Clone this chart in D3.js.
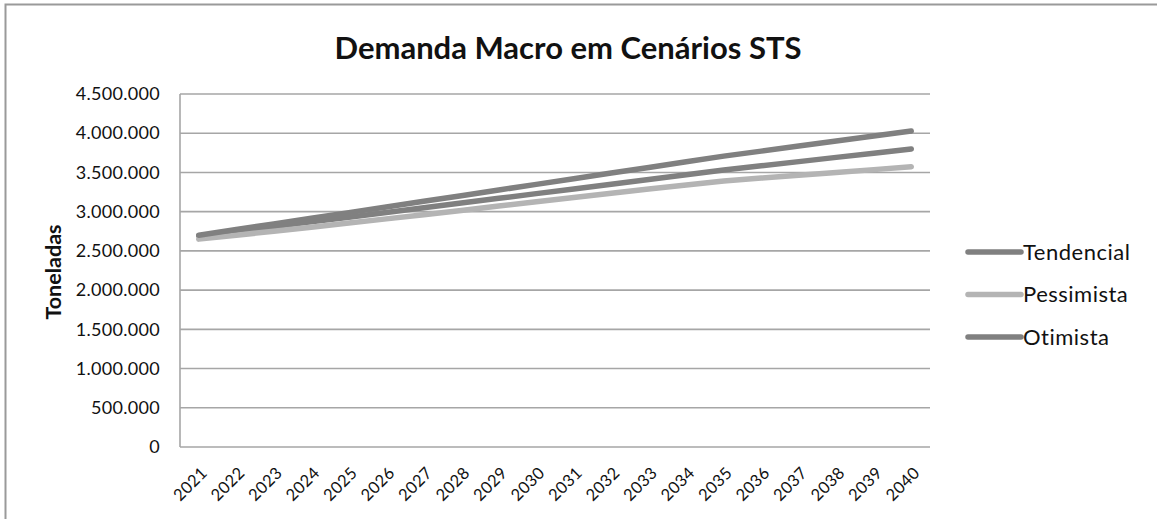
<!DOCTYPE html>
<html>
<head>
<meta charset="utf-8">
<script src="https://cdn.jsdelivr.net/npm/d3@7"></script>
<style>
  body { margin: 0; background: #fff; }
  svg { display: block; font-family: Lato, "Open Sans", sans-serif; }
</style>
</head>
<body>
<div id="chart"></div>
<script>
// anos (categorias)
var years = ['2021', '2022', '2023', '2024', '2025', '2026', '2027', '2028', '2029', '2030',
             '2031', '2032', '2033', '2034', '2035', '2036', '2037', '2038', '2039', '2040'];

// toneladas por cenario
var tendencial = [2690000, 2750000, 2810000, 2870000, 2930000, 2990000, 3050000, 3110000, 3170000, 3230000,
                  3290000, 3350000, 3410000, 3470000, 3530000, 3584000, 3638000, 3692000, 3746000, 3800000];
var pessimista = [2650000, 2700000, 2750000, 2802000, 2855000, 2908000, 2962000, 3016000, 3071000, 3126000,
                  3180000, 3234000, 3288000, 3340000, 3392000, 3428000, 3464000, 3500000, 3536000, 3572000];
var otimista   = [2700000, 2772000, 2844000, 2916000, 2988000, 3060000, 3132000, 3204000, 3276000, 3348000,
                  3420000, 3492000, 3564000, 3636000, 3708000, 3772000, 3836000, 3900000, 3964000, 4028000];

var yTicks = [0, 500000, 1000000, 1500000, 2000000, 2500000, 3000000, 3500000, 4000000, 4500000];

var series = [
  { name: 'Tendencial', values: tendencial, color: '#808080' },
  { name: 'Pessimista', values: pessimista, color: '#b4b4b4' },
  { name: 'Otimista',   values: otimista,   color: '#808080' }
];

var W = 1157, H = 519;
var plot = { left: 180, right: 930, top: 94, bottom: 447 };

var svg = d3.select('#chart').append('svg')
  .attr('width', W)
  .attr('height', H);

// moldura
svg.append('rect')
  .attr('x', 5.5).attr('y', 4.5)
  .attr('width', 1200).attr('height', 600)
  .attr('fill', 'none')
  .attr('stroke', '#9a9a9a')
  .attr('stroke-width', 2);

var x = d3.scalePoint()
  .domain(years)
  .range([plot.left, plot.right])
  .padding(0.5);

var y = d3.scaleLinear()
  .domain([0, 4500000])
  .range([plot.bottom, plot.top]);

var fmt = function(v) {
  return d3.format(',')(v).replace(/,/g, '.');
};

// grade horizontal
svg.append('g')
  .selectAll('line')
  .data(yTicks)
  .join('line')
  .attr('x1', plot.left)
  .attr('x2', plot.right)
  .attr('y1', function(d) { return y(d); })
  .attr('y2', function(d) { return y(d); })
  .attr('stroke', '#a6a6a6')
  .attr('stroke-width', 1.6);

// eixo vertical
svg.append('line')
  .attr('x1', plot.left).attr('x2', plot.left)
  .attr('y1', plot.top).attr('y2', plot.bottom)
  .attr('stroke', '#a6a6a6')
  .attr('stroke-width', 1.6);

// rotulos do eixo y
var yAxis = d3.axisLeft(y)
  .tickValues(yTicks)
  .tickFormat(fmt)
  .tickSize(0)
  .tickPadding(20);

var gy = svg.append('g')
  .attr('transform', 'translate(' + plot.left + ',0)')
  .call(yAxis);
gy.select('.domain').remove();
gy.selectAll('text')
  .attr('font-family', 'Lato, sans-serif')
  .attr('font-size', 18)
  .attr('letter-spacing', 0.3)
  .attr('fill', '#111');

// rotulos do eixo x
var xAxis = d3.axisBottom(x).tickSize(0).tickPadding(0);
var gx = svg.append('g')
  .attr('transform', 'translate(0,' + plot.bottom + ')')
  .call(xAxis);
gx.select('.domain').remove();
gx.selectAll('text')
  .attr('font-family', 'Lato, sans-serif')
  .attr('font-size', 16.5)
  .attr('letter-spacing', 0.3)
  .attr('fill', '#111')
  .attr('text-anchor', 'end')
  .attr('dy', null)
  .attr('y', 0)
  .attr('transform', 'translate(9,27) rotate(-45)');

// titulo do eixo y
svg.append('text')
  .attr('transform', 'translate(61,272) rotate(-90)')
  .attr('text-anchor', 'middle')
  .attr('font-size', 21.5)
  .attr('font-weight', 700)
  .attr('fill', '#111')
  .text('Toneladas');

// titulo
svg.append('text')
  .attr('x', 568)
  .attr('y', 59)
  .attr('text-anchor', 'middle')
  .attr('font-size', 31)
  .attr('font-weight', 700)
  .attr('fill', '#111')
  .text('Demanda Macro em Cenários STS');

// linhas
var line = d3.line()
  .x(function(d, i) { return x(years[i]); })
  .y(function(d) { return y(d); });

svg.append('g')
  .selectAll('path')
  .data(series)
  .join('path')
  .attr('d', function(s) { return line(s.values); })
  .attr('fill', 'none')
  .attr('stroke', function(s) { return s.color; })
  .attr('stroke-width', 5.5)
  .attr('stroke-linecap', 'round')
  .attr('stroke-linejoin', 'round');

// legenda
var legend = svg.append('g')
  .selectAll('g')
  .data(series)
  .join('g')
  .attr('transform', function(s, i) { return 'translate(968,' + (252 + i * 42.5) + ')'; });

legend.append('line')
  .attr('x1', 0).attr('x2', 53)
  .attr('stroke', function(s) { return s.color; })
  .attr('stroke-width', 5.5)
  .attr('stroke-linecap', 'round');

legend.append('text')
  .attr('x', 55)
  .attr('dy', '0.36em')
  .attr('font-size', 22)
  .attr('letter-spacing', 0.5)
  .attr('fill', '#111')
  .text(function(s) { return s.name; });
</script>
</body>
</html>
